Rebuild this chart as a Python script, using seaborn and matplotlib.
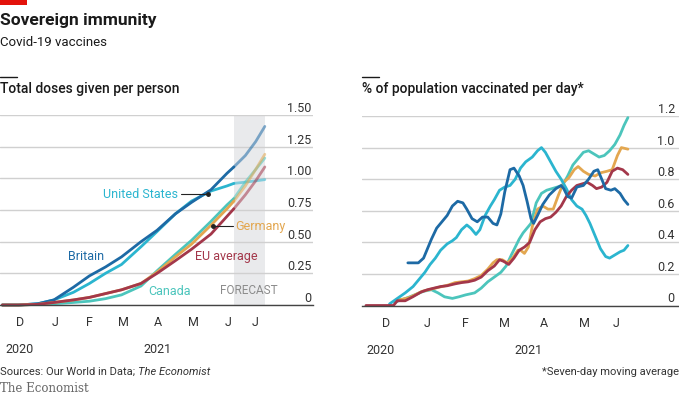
import numpy as np
import pandas as pd
import matplotlib
matplotlib.use("Agg")
import matplotlib.pyplot as plt
import seaborn as sns

# ---- data ----
left_dates = ['2020-12-01', '2020-12-15', '2021-01-01', '2021-01-15', '2021-02-01',
              '2021-02-15', '2021-03-01', '2021-03-15', '2021-04-01', '2021-04-15',
              '2021-05-01', '2021-05-15', '2021-06-01', '2021-06-15', '2021-06-21',
              '2021-07-01', '2021-07-10', '2021-07-18']
doses_britain = [0, 0, 0.01, 0.04, 0.14, 0.23, 0.30, 0.38, 0.50, 0.59, 0.72, 0.81, 0.91, 1.04, 1.09, 1.18, 1.29, 1.41]
doses_us = [0, 0, 0.01, 0.04, 0.10, 0.17, 0.25, 0.32, 0.46, 0.58, 0.72, 0.82, 0.90, 0.94, 0.96, 0.97, 0.98, 0.99]
doses_canada = [0, 0, 0.005, 0.01, 0.02, 0.03, 0.05, 0.08, 0.15, 0.27, 0.40, 0.51, 0.66, 0.79, 0.84, 0.97, 1.07, 1.16]
doses_germany = [0, 0, 0.005, 0.02, 0.04, 0.06, 0.09, 0.12, 0.17, 0.26, 0.38, 0.48, 0.63, 0.76, 0.82, 0.94, 1.07, 1.19]
doses_eu = [0, 0, 0.005, 0.02, 0.04, 0.06, 0.09, 0.12, 0.17, 0.25, 0.35, 0.44, 0.56, 0.70, 0.76, 0.87, 0.98, 1.09]
forecast_start = '2021-06-21'
forecast_end = '2021-07-18'

# right panel: days since 1 Dec 2020 -> % of population per day
daily_britain_days = [32, 40, 44, 50, 54, 58, 62, 66, 70, 74, 77, 81, 85, 89, 93, 97, 100, 103, 106, 110,
                      113, 117, 120, 123, 126, 128, 131, 135, 140, 145, 149, 151, 154, 157, 161, 166,
                      170, 174, 177, 180, 183, 187, 190, 194, 197, 200]
daily_britain = [0.27, 0.27, 0.30, 0.42, 0.49, 0.53, 0.57, 0.63, 0.66, 0.65, 0.61, 0.55, 0.53, 0.56, 0.56,
                 0.52, 0.51, 0.58, 0.72, 0.86, 0.87, 0.82, 0.76, 0.66, 0.55, 0.52, 0.57, 0.64, 0.70, 0.74,
                 0.76, 0.74, 0.69, 0.68, 0.75, 0.76, 0.80, 0.85, 0.86, 0.80, 0.74, 0.73, 0.74, 0.71, 0.67, 0.64]
daily_us_days = [18, 24, 30, 36, 41, 45, 49, 53, 57, 62, 66, 69, 73, 77, 80, 84, 87, 91, 95, 98, 102, 106,
                 110, 114, 118, 122, 127, 131, 134, 137, 141, 145, 149, 153, 157, 161, 165, 168, 171,
                 175, 179, 183, 186, 190, 194, 197, 200]
daily_us = [0.01, 0.045, 0.08, 0.12, 0.17, 0.21, 0.26, 0.30, 0.35, 0.39, 0.41, 0.43, 0.48, 0.51, 0.49, 0.45,
            0.48, 0.57, 0.63, 0.67, 0.73, 0.75, 0.76, 0.80, 0.87, 0.91, 0.94, 0.98, 1.00, 0.97, 0.91, 0.85,
            0.80, 0.74, 0.67, 0.63, 0.61, 0.57, 0.52, 0.44, 0.36, 0.31, 0.30, 0.32, 0.34, 0.35, 0.38]
daily_canada_days = [22, 25, 32, 38, 44, 50, 55, 60, 66, 71, 76, 83, 88, 93, 98, 103, 107, 111, 114, 117,
                     120, 123, 126, 130, 134, 138, 142, 146, 150, 154, 158, 162, 166, 170, 174, 178,
                     182, 186, 190, 194, 197, 200]
daily_canada = [0.02, 0.03, 0.05, 0.07, 0.09, 0.10, 0.08, 0.055, 0.045, 0.055, 0.067, 0.08, 0.11, 0.15, 0.18,
                0.21, 0.25, 0.32, 0.37, 0.42, 0.46, 0.49, 0.52, 0.65, 0.71, 0.73, 0.74, 0.75, 0.76, 0.82,
                0.89, 0.93, 0.97, 0.98, 0.96, 0.94, 0.95, 0.98, 1.02, 1.08, 1.14, 1.19]
daily_germany_days = [23, 28, 33, 38, 43, 48, 53, 58, 63, 68, 73, 78, 83, 88, 93, 97, 100, 104, 108, 112,
                      116, 118, 121, 124, 127, 131, 135, 139, 143, 147, 151, 155, 159, 162, 166, 170,
                      175, 179, 184, 188, 192, 195, 200]
daily_germany = [0.035, 0.04, 0.05, 0.07, 0.09, 0.10, 0.11, 0.12, 0.13, 0.145, 0.15, 0.155, 0.17, 0.19, 0.23,
                 0.27, 0.29, 0.29, 0.27, 0.30, 0.35, 0.35, 0.33, 0.37, 0.50, 0.61, 0.63, 0.61, 0.61, 0.70,
                 0.78, 0.81, 0.86, 0.88, 0.85, 0.83, 0.82, 0.84, 0.85, 0.86, 0.95, 1.00, 0.99]
daily_eu_days = [0, 10, 21, 24, 30, 36, 42, 47, 52, 57, 62, 68, 73, 78, 83, 88, 93, 98, 102, 105, 109,
                 113, 117, 121, 125, 129, 133, 137, 141, 145, 149, 153, 157, 161, 165, 169, 173, 176,
                 180, 184, 188, 192, 196, 200]
daily_eu = [0, 0, 0, 0.03, 0.03, 0.056, 0.085, 0.10, 0.11, 0.12, 0.125, 0.137, 0.145, 0.15, 0.16, 0.18,
            0.22, 0.25, 0.29, 0.28, 0.26, 0.30, 0.35, 0.37, 0.40, 0.48, 0.53, 0.55, 0.56, 0.59, 0.63,
            0.69, 0.73, 0.76, 0.77, 0.78, 0.76, 0.74, 0.75, 0.78, 0.85, 0.87, 0.86, 0.83]

col_britain = '#1d6aa5'
col_us = '#2bb5cf'
col_canada = '#4cc5bc'
col_germany = '#e3a750'
col_eu = '#a3374a'

sns.set_style('white')
plt.rcParams['font.family'] = ['Roboto', 'DejaVu Sans']
plt.rcParams['text.color'] = '#1a1a1a'

W, H = 679, 395
fig = plt.figure(figsize=(W / 100, H / 100), dpi=100)


def px_axes(x0, y0, x1, y1):
    return fig.add_axes([x0 / W, 1 - y1 / H, (x1 - x0) / W, (y1 - y0) / H])


start = pd.Timestamp('2020-12-01')
ax1 = px_axes(0, 115, 313, 305)
ax2 = px_axes(362, 116, 679, 305.5)

# ---- left: total doses ----
ldates = pd.to_datetime(left_dates)
fs = pd.Timestamp(forecast_start)
solid = ldates <= fs
fore = ldates >= fs
ax1.axvspan(fs, pd.Timestamp(forecast_end), color='#e9eaec', lw=0, zorder=0)
for vals, col in [(doses_us, col_us), (doses_britain, col_britain), (doses_canada, col_canada),
                  (doses_germany, col_germany), (doses_eu, col_eu)]:
    v = np.array(vals)
    sns.lineplot(x=ldates[solid], y=v[solid], ax=ax1, color=col, lw=2, estimator=None)
    sns.lineplot(x=ldates[fore], y=v[fore], ax=ax1, color=col, lw=2, alpha=0.55, estimator=None)

# ---- right: daily rate ----
for days, vals, col in [(daily_canada_days, daily_canada, col_canada),
                        (daily_germany_days, daily_germany, col_germany),
                        (daily_us_days, daily_us, col_us),
                        (daily_eu_days, daily_eu, col_eu),
                        (daily_britain_days, daily_britain, col_britain)]:
    d = start + pd.to_timedelta(days, unit='D')
    sns.lineplot(x=d, y=vals, ax=ax2, color=col, lw=2, estimator=None)


def style_axis(ax, ymax, yticks, ylabels, end_date, xlim, pad):
    ax.set_xlim(pd.Timestamp(xlim[0]), pd.Timestamp(xlim[1]))
    ax.set_ylim(0, ymax)
    ax.set_xlabel('')
    ax.set_ylabel('')
    for s in ['left', 'right', 'top']:
        ax.spines[s].set_visible(False)
    ax.spines['bottom'].set_color('#444444')
    ax.spines['bottom'].set_linewidth(1)
    ax.set_axisbelow(True)
    ax.grid(axis='y', color='#d0d0d0', lw=1)
    ax.grid(axis='x', visible=False)
    ax.set_yticks(yticks)
    ax.set_yticklabels(ylabels)
    ax.yaxis.tick_right()
    ax.tick_params(axis='y', length=0, pad=pad, labelsize=9, labelcolor='#333333')
    for lab in ax.get_yticklabels():
        lab.set_ha('right')
        lab.set_va('bottom')
    months = list(pd.date_range('2020-12-01', end_date, freq='MS'))
    ticks = months + [pd.Timestamp(end_date)]
    ax.set_xticks(ticks)
    ax.set_xticklabels([''] * len(ticks))
    ax.tick_params(axis='x', which='major', length=5, width=1, color='#444444', direction='out')
    for t, tk in zip(ticks, ax.xaxis.get_major_ticks()):
        if t == pd.Timestamp('2021-01-01'):
            tk.tick1line.set_markersize(9)
    mids = [ticks[i] + (ticks[i + 1] - ticks[i]) / 2 for i in range(len(ticks) - 1)]
    ax.set_xticks(mids, minor=True)
    ax.set_xticklabels([m.strftime('%b')[0] for m in months], minor=True)
    ax.tick_params(axis='x', which='minor', length=0, pad=8, labelsize=9, labelcolor='#333333')
    for ln in ax.get_lines():
        ln.set_clip_on(False)


style_axis(ax1, 1.5, [0, 0.25, 0.5, 0.75, 1.0, 1.25, 1.5],
           ['0', '0.25', '0.50', '0.75', '1.00', '1.25', '1.50'],
           '2021-07-18', ('2020-11-29', '2021-08-29'), -1)
style_axis(ax2, 1.2, [0, 0.2, 0.4, 0.6, 0.8, 1.0, 1.2],
           ['0', '0.2', '0.4', '0.6', '0.8', '1.0', '1.2'],
           '2021-06-19', ('2020-11-28', '2021-07-28'), -3)

# year labels
for ax, y20, y21 in [(ax1, '2020-12-16', '2021-04-15'), (ax2, '2020-12-12', '2021-04-04')]:
    tr = ax.get_xaxis_transform()
    ax.text(pd.Timestamp(y20), -0.235, '2020', transform=tr, ha='center', va='center', fontsize=9, color='#333333')
    ax.text(pd.Timestamp(y21), -0.235, '2021', transform=tr, ha='center', va='center', fontsize=9, color='#333333')

# series labels (left panel)
lab_kw = dict(fontsize=9, va='center')
ax1.text(pd.Timestamp('2021-05-03'), 0.876, 'United States', color=col_us, ha='right', **lab_kw)
ax1.plot([pd.Timestamp('2021-05-06'), pd.Timestamp('2021-05-29')], [0.876, 0.876], color='#222222', lw=0.8)
ax1.plot([pd.Timestamp('2021-05-29')], [0.876], 'o', color='#222222', ms=2.5)
ax1.text(pd.Timestamp('2021-02-12'), 0.38, 'Britain', color=col_britain, ha='center', **lab_kw)
ax1.text(pd.Timestamp('2021-06-22'), 0.62, 'Germany', color=col_germany, ha='left', **lab_kw)
ax1.plot([pd.Timestamp('2021-06-03'), pd.Timestamp('2021-06-20')], [0.62, 0.62], color='#222222', lw=0.8)
ax1.plot([pd.Timestamp('2021-06-03')], [0.62], 'o', color='#222222', ms=2.5)
ax1.text(pd.Timestamp('2021-06-14'), 0.38, 'EU average', color=col_eu, ha='center', **lab_kw)
ax1.text(pd.Timestamp('2021-04-26'), 0.11, 'Canada', color=col_canada, ha='center', **lab_kw)
ax1.text(pd.Timestamp('2021-07-04'), 0.118, 'FORECAST', color='#8c8c8c', ha='center', fontsize=8.5, va='center')

# titles and furniture
fig.patches.append(plt.Rectangle((0, 1 - 5 / H), 27 / W, 5 / H, transform=fig.transFigure,
                                 color='#e3120b', lw=0))
fig.text(0, 1 - 20 / H, 'Sovereign immunity', fontsize=12.5, fontweight='bold', va='center')
fig.text(0, 1 - 42 / H, 'Covid-19 vaccines', fontsize=9.5, va='center')
for x0 in [0, 362]:
    fig.add_artist(plt.Line2D([x0 / W, (x0 + 17) / W], [1 - 77 / H] * 2, color='#1a1a1a', lw=1))
fig.text(0, 1 - 89 / H, 'Total doses given per person', fontsize=10, fontweight='medium', va='center')
fig.text(362 / W, 1 - 89 / H, '% of population vaccinated per day*', fontsize=10, fontweight='medium', va='center')
src = fig.text(0, 1 - 372 / H, 'Sources: Our World in Data; ', fontsize=8, color='#333333', va='center')
ax1.annotate('The Economist', xy=(1, 0.5), xycoords=src, va='center', ha='left', fontsize=8,
             style='italic', color='#333333', annotation_clip=False)
fig.text(1, 1 - 372 / H, '*Seven-day moving average', fontsize=8, color='#333333', ha='right', va='center')
fig.text(0, 1 - 388 / H, 'The Economist', fontsize=8.5, color='#666666', va='center', family='DejaVu Serif')

fig.savefig('out.png', dpi=100)
